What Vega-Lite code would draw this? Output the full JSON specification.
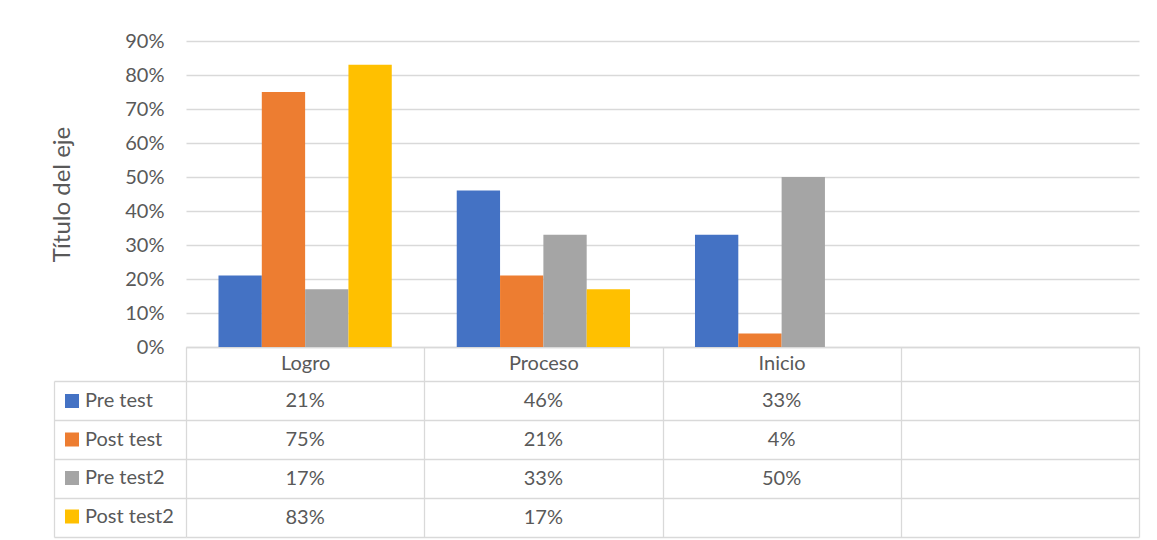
{
  "$schema": "https://vega.github.io/schema/vega-lite/v6.json",
  "background": "white",
  "padding": {"left": 50, "top": 31, "right": 17, "bottom": 2},
  "autosize": {"type": "pad"},
  "bounds": "flush",
  "spacing": 34,
  "config": {"font": "Lato", "view": {"stroke": null}},
  "data": {
    "values": [
      {"category": "Logro", "series": "Pre test", "value": 0.21},
      {"category": "Logro", "series": "Post test", "value": 0.75},
      {"category": "Logro", "series": "Pre test2", "value": 0.17},
      {"category": "Logro", "series": "Post test2", "value": 0.83},
      {"category": "Proceso", "series": "Pre test", "value": 0.46},
      {"category": "Proceso", "series": "Post test", "value": 0.21},
      {"category": "Proceso", "series": "Pre test2", "value": 0.33},
      {"category": "Proceso", "series": "Post test2", "value": 0.17},
      {"category": "Inicio", "series": "Pre test", "value": 0.33},
      {"category": "Inicio", "series": "Post test", "value": 0.04},
      {"category": "Inicio", "series": "Pre test2", "value": 0.50}
    ]
  },
  "vconcat": [
    {
      "width": 953,
      "height": 306,
      "mark": {"type": "bar"},
      "encoding": {
        "x": {
          "field": "category",
          "type": "nominal",
          "sort": null,
          "scale": {"domain": ["Logro", "Proceso", "Inicio", " "], "paddingInner": 0, "paddingOuter": 0},
          "axis": {
            "title": null,
            "labelAngle": 0,
            "domain": true,
            "domainColor": "#d9d9d9",
            "domainWidth": 1.3,
            "ticks": true,
            "tickBand": "extent",
            "tickSize": 34,
            "tickColor": "#d9d9d9",
            "tickWidth": 1.3,
            "labelFontSize": 20,
            "labelColor": "#595959",
            "labelPadding": -28
          }
        },
        "xOffset": {
          "field": "series",
          "type": "nominal",
          "sort": null,
          "scale": {"domain": ["Pre test", "Post test", "Pre test2", "Post test2"], "paddingInner": 0, "paddingOuter": 0.75}
        },
        "y": {
          "field": "value",
          "type": "quantitative",
          "scale": {"domain": [0, 0.9], "nice": false},
          "axis": {
            "values": [0, 0.1, 0.2, 0.3, 0.4, 0.5, 0.6, 0.7, 0.8, 0.9],
            "format": ".0%",
            "grid": true,
            "gridColor": "#d9d9d9",
            "gridWidth": 1.3,
            "domain": false,
            "ticks": false,
            "labelFontSize": 20,
            "labelColor": "#595959",
            "labelPadding": 22,
            "title": "Título del eje",
            "titleFontSize": 24,
            "titleFontWeight": "normal",
            "titleColor": "#595959",
            "titlePadding": 50
          }
        },
        "color": {
          "field": "series",
          "type": "nominal",
          "sort": null,
          "scale": {
            "domain": ["Pre test", "Post test", "Pre test2", "Post test2"],
            "range": ["#4472C4", "#ED7D31", "#A5A5A5", "#FFC000"]
          },
          "legend": {
            "title": null,
            "orient": "none",
            "legendX": -124,
            "legendY": 350,
            "padding": 0,
            "symbolType": "square",
            "symbolSize": 196,
            "symbolStrokeWidth": 0,
            "labelFontSize": 20,
            "labelColor": "#595959",
            "labelOffset": 3,
            "rowPadding": 18.5
          }
        }
      }
    },
    {
      "width": 953,
      "height": 156,
      "mark": {"type": "text", "fontSize": 20, "color": "#595959"},
      "encoding": {
        "x": {
          "field": "category",
          "type": "nominal",
          "sort": null,
          "scale": {"domain": ["Logro", "Proceso", "Inicio", " "], "paddingInner": 0, "paddingOuter": 0},
          "axis": {
            "title": null,
            "labels": false,
            "ticks": false,
            "domain": false,
            "grid": true,
            "gridColor": "#d9d9d9",
            "gridWidth": 1.3,
            "tickBand": "extent"
          }
        },
        "y": {
          "field": "series",
          "type": "nominal",
          "sort": null,
          "scale": {"domain": ["Pre test", "Post test", "Pre test2", "Post test2"], "paddingInner": 0, "paddingOuter": 0},
          "axis": {
            "title": null,
            "labels": false,
            "offset": 132,
            "domain": true,
            "domainColor": "#d9d9d9",
            "domainWidth": 1.3,
            "ticks": true,
            "tickSize": -132,
            "tickColor": "#d9d9d9",
            "tickWidth": 1.3,
            "tickBand": "extent",
            "grid": true,
            "gridColor": "#d9d9d9",
            "gridWidth": 1.3
          }
        },
        "text": {"field": "value", "type": "quantitative", "format": ".0%"}
      }
    }
  ],
  "resolve": {
    "scale": {"x": "independent", "y": "independent", "color": "independent"},
    "legend": {"color": "independent"}
  }
}
